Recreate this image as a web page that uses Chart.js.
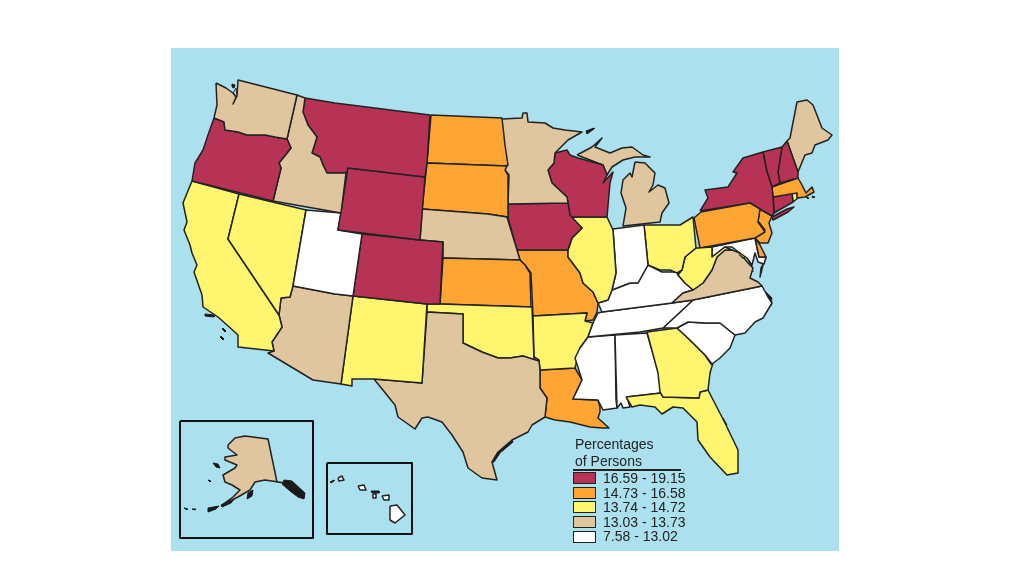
<!DOCTYPE html>
<html>
<head>
<meta charset="utf-8">
<title>Percentages of Persons</title>
<script src="https://cdn.jsdelivr.net/npm/chart.js@4"></script>
<style>
  html, body { margin: 0; padding: 0; background: #fff; }
  #panel { position: absolute; left: 171px; top: 48px; width: 668px; height: 503px; background: #abe1ee; }
  #map { position: absolute; left: 0; top: 0; }
  #key { position: absolute; left: 402px; top: 388px; width: 108px; font: 14px "Liberation Sans", Arial, sans-serif; color: #222; white-space: nowrap; }
  #key .title { border-bottom: 2px solid #222; height: 33px; line-height: 17px; padding-left: 2px; }
  #key .row { display: flex; align-items: center; height: 14.6px; line-height: 14.6px; }
  #key .swatch { width: 21px; height: 10px; border: 1px solid #222; margin-right: 7px; flex: none; }
</style>
</head>
<body>
<div id="panel">
  <canvas id="map" width="668" height="503"></canvas>
  <div id="key"></div>
</div>
<script>
const classLabels = ["16.59 - 19.15", "14.73 - 16.58", "13.74 - 14.72", "13.03 - 13.73", "7.58 - 13.02"];
const classColors = ["#b73355", "#ffa533", "#fff56e", "#dfc69e", "#ffffff"];
const keyTitle = ["Percentages", "of Persons"];

// outlines, in picture pixels
const WA = [[216,83],[226,88],[233,93],[236,97],[233,104],[237,96],[238,80],[297,95],[287,139],[275,137],[265,135],[247,135],[238,132],[225,130],[224,122],[214,118],[217,105]];
const OR = [[214,118],[224,122],[225,130],[238,132],[247,135],[265,135],[275,137],[287,139],[291,148],[279,163],[281,168],[273,201],[192,181],[195,163],[203,150],[208,135]];
const ID = [[297,95],[305,98],[303,112],[308,125],[317,137],[312,153],[320,157],[323,165],[327,173],[335,173],[346,173],[341,213],[273,201],[281,168],[279,163],[291,148],[287,139]];
const MT = [[305,98],[335,103],[430,115],[427,163],[425,177],[348,168],[346,173],[335,173],[327,173],[323,165],[320,157],[312,153],[317,137],[308,125],[303,112]];
const WY = [[348,168],[425,177],[420,240],[338,230]];
const UT = [[306,210],[341,213],[338,230],[362,234],[353,296],[335,294],[293,286]];
const CO = [[362,234],[420,240],[443,242],[440,304],[427,304],[353,296]];
const NV = [[239,194],[306,210],[293,286],[290,297],[281,298],[279,315],[228,239]];
const CA = [[192,181],[239,194],[228,239],[279,315],[282,327],[272,342],[274,351],[238,347],[238,335],[227,325],[218,317],[203,307],[202,295],[194,272],[197,265],[192,253],[190,245],[184,230],[187,222],[183,203]];
const AZ = [[293,286],[335,294],[353,296],[341,384],[313,380],[268,353],[274,351],[272,342],[282,327],[279,315],[281,298],[290,297]];
const NM = [[353,296],[427,304],[422,383],[374,379],[352,379],[352,386],[341,384]];
const TX = [[427,312],[463,314],[463,343],[482,352],[498,358],[510,358],[523,356],[539,361],[540,370],[540,388],[547,398],[545,417],[532,425],[528,432],[512,440],[498,452],[492,462],[497,480],[482,478],[468,468],[463,452],[452,435],[442,422],[428,417],[422,418],[415,429],[398,417],[395,405],[374,379],[422,383]];
const OK = [[427,304],[440,304],[532,307],[534,360],[523,356],[510,358],[498,358],[482,352],[463,343],[463,314],[427,312]];
const KS = [[443,258],[520,260],[525,265],[530,273],[531,307],[440,304]];
const NE = [[422,209],[488,214],[507,217],[517,250],[520,260],[443,258],[443,242],[420,240]];
const SD = [[427,163],[507,166],[505,170],[508,175],[508,217],[488,214],[422,209]];
const ND = [[431,115],[502,118],[505,145],[508,165],[507,166],[427,163]];
const MN = [[502,119],[522,118],[523,113],[527,113],[528,122],[545,123],[553,128],[565,130],[582,132],[568,140],[555,153],[554,163],[548,170],[552,183],[567,197],[568,203],[508,204],[509,175],[505,170],[507,165],[502,138]];
const IA = [[508,204],[568,203],[570,215],[582,228],[572,238],[568,250],[517,250],[508,218]];
const WI = [[555,153],[567,150],[570,155],[578,158],[603,165],[607,175],[603,183],[613,172],[610,183],[607,217],[570,217],[568,203],[567,197],[552,183],[548,170],[554,163]];
const MIU = [[577,155],[592,147],[602,138],[595,147],[610,153],[622,148],[632,147],[643,155],[650,157],[635,157],[623,160],[612,167],[607,175],[603,165]];
const MIL = [[635,162],[645,163],[655,173],[653,185],[649,192],[658,185],[665,188],[669,203],[662,213],[660,222],[623,226],[626,208],[621,193],[623,180],[630,173],[632,177]];
const IL = [[570,217],[607,217],[613,230],[616,273],[612,290],[608,300],[598,303],[593,292],[583,283],[580,273],[568,257],[568,250],[572,238],[582,228]];
const IN = [[613,229],[644,225],[648,265],[638,283],[630,283],[612,290],[616,273]];
const OH = [[644,225],[663,225],[680,225],[693,217],[696,248],[685,257],[682,270],[677,273],[670,270],[660,270],[648,265]];
const WV = [[696,248],[698,248],[712,247],[712,257],[725,247],[732,250],[725,250],[717,257],[712,270],[703,283],[693,290],[685,283],[678,275],[682,270],[685,257]];
const PA = [[694,218],[701,212],[750,203],[760,209],[758,222],[765,232],[755,238],[700,248]];
const NY = [[700,211],[708,198],[705,190],[728,187],[737,173],[733,172],[743,158],[763,152],[767,172],[772,187],[773,197],[774,213],[772,216],[760,209],[750,203]];
const LI = [[772,217],[787,209],[794,207],[788,212],[773,220]];
const VT = [[763,152],[782,147],[778,172],[780,183],[772,187],[767,172]];
const NH = [[782,147],[787,141],[798,172],[798,178],[780,183],[778,172]];
const ME = [[787,141],[790,138],[797,102],[807,100],[813,105],[822,128],[832,135],[828,140],[815,145],[812,153],[805,155],[798,172]];
const MA = [[772,187],[798,178],[802,185],[806,193],[812,187],[814,192],[805,197],[797,198],[797,193],[773,197]];
const CT = [[773,197],[792,193],[793,202],[774,213]];
const RI = [[792,193],[797,193],[798,198],[793,202]];
const NJ = [[760,209],[772,216],[769,223],[772,233],[768,243],[760,243],[755,238],[765,230],[758,221]];
const DE = [[755,238],[760,245],[766,257],[759,257]];
const MD = [[712,247],[755,238],[759,257],[766,257],[764,264],[758,262],[755,253],[752,265],[747,258],[740,253],[732,247],[725,247],[712,257]];
const DC = [[739,254],[743,251],[747,255],[743,258]];
const VA = [[725,250],[732,250],[740,253],[748,263],[753,268],[750,278],[758,282],[762,286],[693,300],[672,303],[683,293],[693,290],[703,283],[712,270],[717,257]];
const VAE = [[766,258],[763,265],[760,277],[761,268]];
const KY = [[598,303],[608,300],[612,290],[630,283],[638,283],[648,265],[662,272],[677,272],[678,275],[685,283],[693,290],[683,293],[672,303],[602,312]];
const TN = [[602,312],[672,303],[693,300],[677,315],[663,328],[640,332],[588,337],[593,323],[598,313]];
const NC = [[693,300],[762,286],[768,297],[772,303],[763,318],[755,322],[745,333],[735,335],[720,323],[705,323],[688,322],[677,328],[663,328],[677,315]];
const SC = [[677,328],[688,322],[705,323],[720,323],[735,335],[730,348],[720,358],[712,364],[705,355],[690,340]];
const GA = [[647,332],[677,328],[690,340],[705,355],[711,364],[713,363],[710,373],[708,390],[700,392],[699,398],[663,397],[660,392],[658,373]];
const FL = [[626,397],[661,393],[663,397],[699,398],[700,392],[708,390],[725,423],[738,450],[738,473],[727,475],[710,457],[698,440],[697,422],[683,408],[673,407],[662,414],[655,407],[640,405],[632,407]];
const AL = [[615,335],[647,333],[660,377],[661,393],[627,397],[630,407],[623,408],[621,403],[617,408]];
const MS = [[588,337],[615,335],[616,400],[617,408],[603,410],[598,400],[573,399],[582,380],[575,358],[580,348]];
const AR = [[533,316],[587,313],[585,321],[593,323],[588,337],[580,348],[575,368],[540,370],[539,360],[534,357]];
const MO = [[517,250],[568,250],[568,257],[580,273],[583,283],[593,292],[598,303],[597,312],[593,320],[585,321],[587,313],[533,316],[531,273],[525,265],[520,260]];
const LA = [[540,370],[575,368],[582,380],[573,399],[598,400],[600,407],[600,412],[598,418],[609,428],[602,428],[590,427],[570,422],[555,420],[545,417],[547,398],[540,388]];
const AK = [[228,445],[235,438],[245,436],[268,439],[277,482],[285,483],[265,480],[255,482],[250,490],[238,497],[222,505],[233,497],[240,490],[232,485],[225,482],[223,475],[235,468],[237,465],[225,460],[225,457],[237,455],[228,448]];
const HI1 = [[390,506],[397,505],[405,515],[395,523],[390,520]];
const HI2 = [[382,496],[389,495],[389,500],[384,500]];
const HI3 = [[358,486],[364,485],[366,490],[360,490]];
const HI4 = [[338,478],[342,476],[344,480],[339,481]];
const HI5 = [[373,494],[376,494],[376,498],[373,498]];

const stateNames = ["WA","OR","ID","MT","WY","UT","CO","NV","CA","AZ","NM","TX","OK","KS","NE","SD","ND","MN","IA","WI","MI","MI","IL","IN","OH","WV","PA","NY","NY","VT","NH","ME","MA","CT","RI","NJ","DE","MD","DC","VA","VA","KY","TN","NC","SC","GA","FL","AL","MS","AR","MO","LA","AK","HI","HI","HI","HI","HI"];
const stateShapes = [WA,OR,ID,MT,WY,UT,CO,NV,CA,AZ,NM,TX,OK,KS,NE,SD,ND,MN,IA,WI,MIU,MIL,IL,IN,OH,WV,PA,NY,LI,VT,NH,ME,MA,CT,RI,NJ,DE,MD,DC,VA,VAE,KY,TN,NC,SC,GA,FL,AL,MS,AR,MO,LA,AK,HI1,HI2,HI3,HI4,HI5];
const stateClass = [3,0,3,0,0,4,0,2,2,3,2,3,2,1,3,1,1,3,0,0,3,3,2,4,2,2,1,0,0,0,0,3,1,0,2,1,1,4,2,3,3,4,4,4,4,2,2,4,4,2,1,1,3,4,4,4,4,4];

// small islands and rough coast bits that only show as black
const sanJuan = [[232,84],[235,85],[234,88],[232,87]];
const channel1 = [[205,314],[214,315],[214,317],[205,316]];
const channel2 = [[223,328],[226,331],[225,332],[222,329]];
const channel3 = [[221,336],[224,339],[223,340],[220,337]];
const sfBay = [[194,244],[206,247],[206,248],[195,247],[197,256],[195,256]];
const isleRoyale = [[586,131],[594,128],[594,129],[587,134]];
const panhandle = [[284,480],[292,481],[305,493],[304,499],[298,497],[290,491],[282,484]];
const kodiak = [[248,493],[253,490],[252,496],[247,499]];
const aleut1 = [[208,508],[219,506],[216,509],[208,512]];
const aleut2 = [[221,505],[235,498],[231,503],[222,507]];
const stMatthew = [[213,463],[218,464],[220,468],[216,467]];
const nunivak = [[208,480],[211,481],[210,482]];
const attu = [[184,508],[188,509],[187,510]];
const attu2 = [[192,509],[196,509],[195,510]];
const molokai = [[371,491],[379,491],[379,493],[372,493]];
const niihau = [[330,482],[334,480],[334,481],[331,483]];
const nantucket = [[806,197],[809,198],[808,199]];
const vineyard = [[812,196],[815,197],[813,198]];
const obx = [[766,292],[772,298],[771,306],[768,306],[769,298]];
const pamlico = [[752,307],[762,309],[756,311]];
const txCoast = [[512,440],[498,452],[492,462],[494,462],[500,453],[513,442]];
const flCoast = [[723,418],[727,425],[725,425]];
const detailShapes = [sanJuan,channel1,channel2,channel3,sfBay,isleRoyale,panhandle,kodiak,aleut1,aleut2,stMatthew,nunivak,attu,attu2,molokai,niihau,nantucket,vineyard,obx,pamlico,txCoast,flCoast];

// water cut into the land
const puget = [[232,95],[236,88],[237,96],[233,104],[227,107],[229,100]];
const chesapeake = [[750,246],[753,253],[751,262],[753,272],[749,262],[748,254]];
const pontchartrain = [[589,410],[596,409],[598,413],[591,414]];
const bayShapes = [puget,chesapeake,pontchartrain];

const akBox = [[180,421],[313,421],[313,538],[180,538]];
const hiBox = [[327,463],[412,463],[412,534],[327,534]];

function toPoints(shape) {
  const pts = shape.map(([x, y]) => ({ x, y }));
  pts.push(pts[0]);
  return pts;
}

function shapeDataset(label, shape, fillColor, lineColor, lineWidth) {
  return {
    label,
    data: toPoints(shape),
    showLine: true,
    fill: "shape",
    backgroundColor: fillColor,
    borderColor: lineColor,
    borderWidth: lineWidth,
    pointRadius: 0,
    clip: false
  };
}

const datasets = [];
stateShapes.forEach((shape, i) => {
  datasets.push(shapeDataset(stateNames[i], shape, classColors[stateClass[i]], "#222", 1.5));
});
bayShapes.forEach((shape) => {
  datasets.push(shapeDataset("water", shape, "#abe1ee", "#222", 1));
});
detailShapes.forEach((shape) => {
  datasets.push(shapeDataset("detail", shape, "#1a1a1a", "#1a1a1a", 1));
});
[akBox, hiBox].forEach((shape) => {
  datasets.push({
    label: "inset",
    data: toPoints(shape),
    showLine: true,
    fill: false,
    borderColor: "#111",
    borderWidth: 2,
    pointRadius: 0,
    clip: false
  });
});

new Chart(document.getElementById("map").getContext("2d"), {
  type: "scatter",
  data: { datasets },
  options: {
    responsive: false,
    animation: false,
    layout: { padding: 0 },
    plugins: { legend: { display: false }, tooltip: { enabled: false } },
    elements: { line: { borderJoinStyle: "round", tension: 0 } },
    scales: {
      x: { type: "linear", display: false, min: 171, max: 839 },
      y: { type: "linear", display: false, min: 48, max: 551, reverse: true }
    }
  }
});

// key
const key = document.getElementById("key");
const title = document.createElement("div");
title.className = "title";
title.innerHTML = keyTitle.join("<br>");
key.appendChild(title);
classLabels.forEach((label, i) => {
  const row = document.createElement("div");
  row.className = "row";
  const swatch = document.createElement("span");
  swatch.className = "swatch";
  swatch.style.background = classColors[i];
  row.appendChild(swatch);
  row.appendChild(document.createTextNode(label));
  key.appendChild(row);
});
</script>
</body>
</html>
